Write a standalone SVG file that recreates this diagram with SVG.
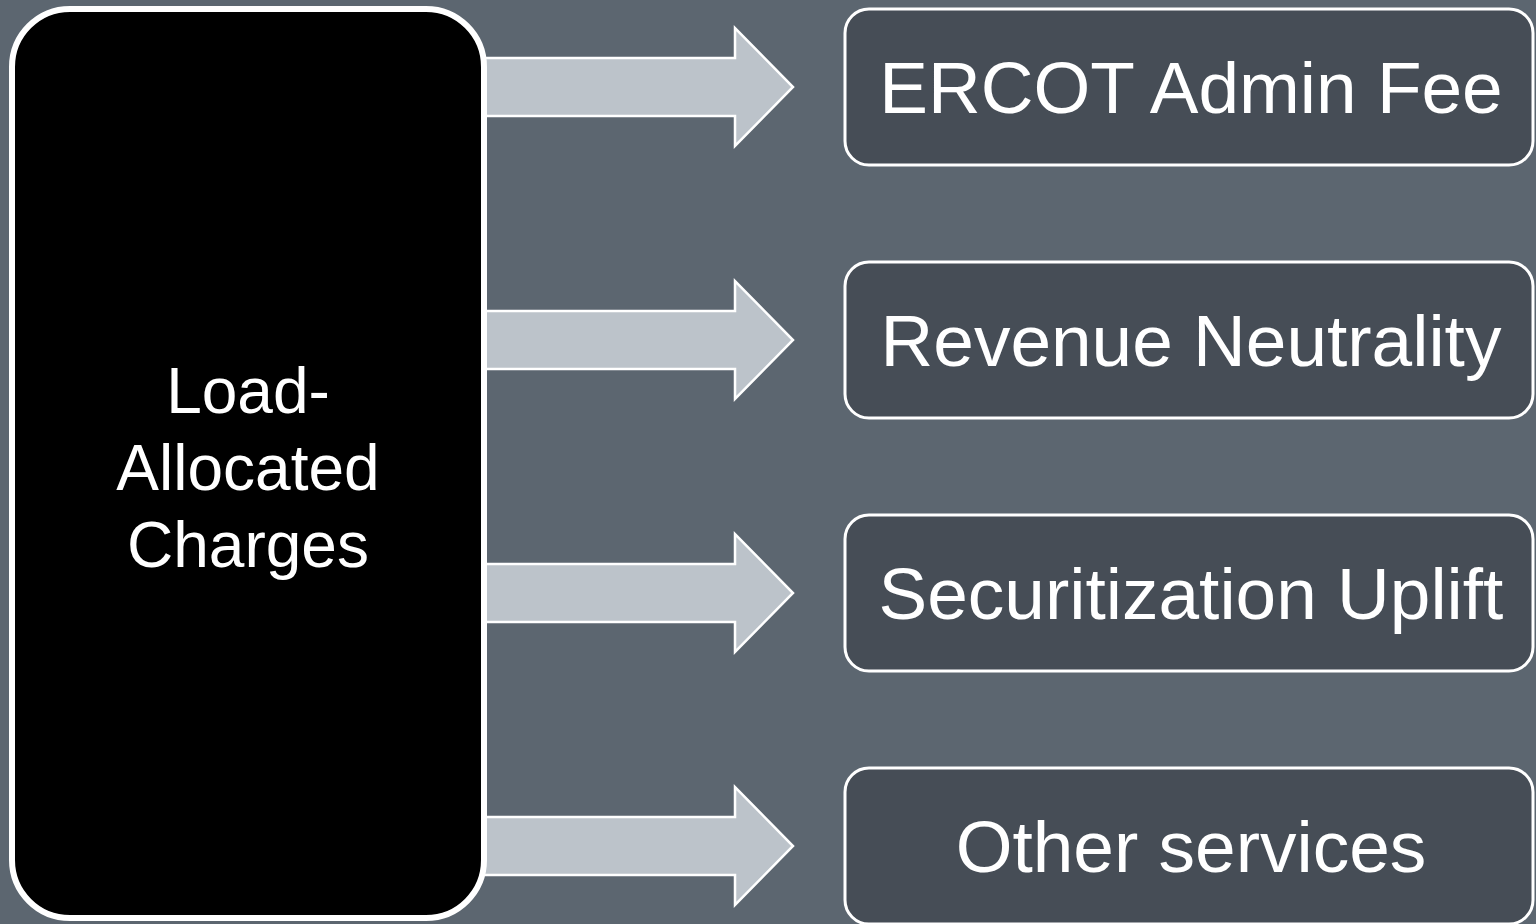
<svg xmlns="http://www.w3.org/2000/svg" width="1536" height="924" viewBox="0 0 1536 924">
  <style>
    .arrow { fill: #BCC3CA; stroke: #FFFFFF; stroke-width: 2.5; stroke-linejoin: miter; }
    .box { fill: #464D56; stroke: #FFFFFF; stroke-width: 3; }
    .label { font-family: "Liberation Sans", Arial, sans-serif; font-size: 73px; fill: #FFFFFF; text-anchor: middle; }
    .main { font-family: "Liberation Sans", Arial, sans-serif; font-size: 64px; fill: #FFFFFF; text-anchor: middle; }
  </style>
  <rect x="0" y="0" width="1536" height="924" fill="#5C6670"/>
  <g id="connectors">
    <polygon class="arrow" points="470,58 735,58 735,28 793,87 735,146 735,116 470,116"/>
    <polygon class="arrow" points="470,311 735,311 735,281 793,340 735,399 735,369 470,369"/>
    <polygon class="arrow" points="470,564 735,564 735,534 793,593 735,652 735,622 470,622"/>
    <polygon class="arrow" points="470,817 735,817 735,787 793,846 735,905 735,875 470,875"/>
  </g>
  <g id="load-allocated-charges">
    <rect x="12" y="9" width="472" height="909" rx="58" ry="58" fill="#000000" stroke="#FFFFFF" stroke-width="6"/>
    <text class="main" x="248" y="413">Load-</text>
    <text class="main" x="248" y="490">Allocated</text>
    <text class="main" x="248" y="567">Charges</text>
  </g>
  <g id="ercot-admin-fee">
    <rect class="box" x="845" y="9" width="688" height="156" rx="24" ry="24"/>
    <text class="label" x="1191" y="113">ERCOT Admin Fee</text>
  </g>
  <g id="revenue-neutrality">
    <rect class="box" x="845" y="262" width="688" height="156" rx="24" ry="24"/>
    <text class="label" x="1191" y="366">Revenue Neutrality</text>
  </g>
  <g id="securitization-uplift">
    <rect class="box" x="845" y="515" width="688" height="156" rx="24" ry="24"/>
    <text class="label" x="1191" y="619">Securitization Uplift</text>
  </g>
  <g id="other-services">
    <rect class="box" x="845" y="768" width="688" height="156" rx="24" ry="24"/>
    <text class="label" x="1191" y="872">Other services</text>
  </g>
</svg>
